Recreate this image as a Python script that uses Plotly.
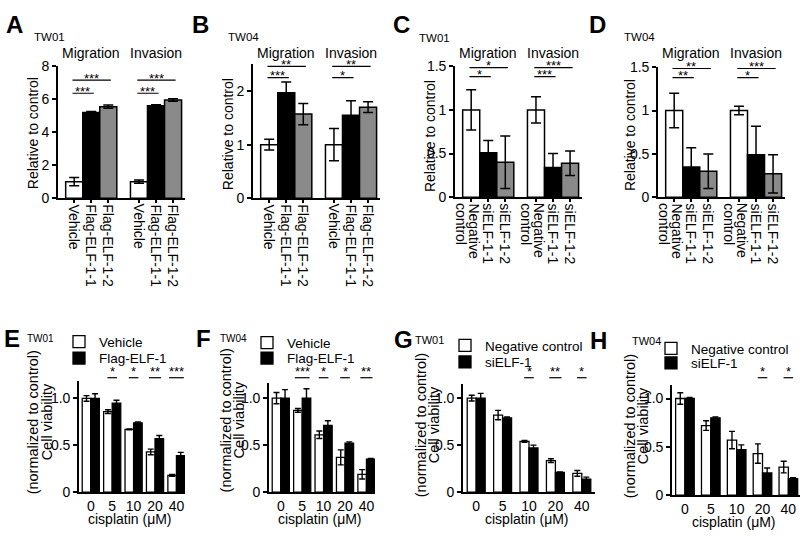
import plotly.graph_objects as go

W, H = 806, 540
FONT = "Arial, 'Liberation Sans', sans-serif"
GRAY = "#8a8a8a"

# ---------------- top row: migration / invasion (relative to control)
groups = ["Migration", "Invasion"]
flag_labels = ["Vehicle", "Flag-ELF-1-1", "Flag-ELF-1-2"]
si_labels = ["Negative<br>control", "siELF-1-1", "siELF-1-2"]

a_mean = [1.0, 5.2, 5.55, 1.0, 5.6, 5.95]
a_err = [0.25, 0.05, 0.1, 0.1, 0.07, 0.08]
a_stars = ["***", "***", "***", "***"]
a_brk = [6.36, 7.16]

b_mean = [1.0, 1.97, 1.57, 1.0, 1.55, 1.7]
b_err = [0.1, 0.2, 0.2, 0.3, 0.27, 0.1]
b_stars = ["***", "**", "*", "**"]
b_brk = [2.25, 2.46]

c_mean = [1.0, 0.51, 0.4, 1.0, 0.34, 0.39]
c_err = [0.23, 0.14, 0.3, 0.15, 0.16, 0.14]
c_stars = ["*", "*", "***", "***"]
c_brk = [1.38, 1.485]

d_mean = [1.0, 0.35, 0.3, 1.0, 0.49, 0.27]
d_err = [0.2, 0.22, 0.2, 0.05, 0.33, 0.22]
d_stars = ["**", "**", "*", "***"]
d_brk = [1.38, 1.485]

# ---------------- bottom row: cell viability vs cisplatin
doses = ["0", "5", "10", "20", "40"]

e_veh = [1.0, 0.86, 0.67, 0.43, 0.18]
e_veh_err = [0.03, 0.02, 0.005, 0.03, 0.01]
e_flag = [1.0, 0.95, 0.74, 0.57, 0.39]
e_flag_err = [0.05, 0.03, 0.01, 0.035, 0.035]
e_stars = ["", "*", "*", "**", "***"]

f_veh = [1.0, 0.87, 0.61, 0.37, 0.19]
f_veh_err = [0.06, 0.02, 0.04, 0.08, 0.05]
f_flag = [1.0, 1.0, 0.71, 0.52, 0.35]
f_flag_err = [0.09, 0.1, 0.05, 0.015, 0.01]
f_stars = ["", "***", "*", "*", "**"]

g_nc = [1.0, 0.82, 0.54, 0.335, 0.2]
g_nc_err = [0.03, 0.05, 0.01, 0.02, 0.03]
g_si = [1.0, 0.79, 0.47, 0.21, 0.14]
g_si_err = [0.05, 0.01, 0.03, 0.005, 0.02]
g_stars = ["", "", "*", "**", "*"]

h_nc = [1.0, 0.72, 0.57, 0.43, 0.29]
h_nc_err = [0.06, 0.05, 0.09, 0.1, 0.06]
h_si = [1.0, 0.8, 0.47, 0.23, 0.17]
h_si_err = [0.01, 0.01, 0.05, 0.05, 0.01]
h_stars = ["", "", "", "*", "*"]

GROUP_STEP = 3.8
TOP_XR = [-0.95, 6.5]

top_panels = [
    dict(letter="A", line="TW01", labels=flag_labels, mean=a_mean, err=a_err,
         stars=a_stars, brk=a_brk, yr=[0, 8], tv=[0, 2, 4, 6, 8], tt=["0", "2", "4", "6", "8"],
         box=(58, 185, 60, 196), lpos=(14, 17), tpos=(49, 30), ytl=(33, 129)),
    dict(letter="B", line="TW04", labels=flag_labels, mean=b_mean, err=b_err,
         stars=b_stars, brk=b_brk, yr=[0, 2.5], tv=[0, 1, 2], tt=["0", "1", "2"],
         box=(253, 380, 58, 196), lpos=(200, 17), tpos=(243, 30), ytl=(228, 130)),
    dict(letter="C", line="TW01", labels=si_labels, mean=c_mean, err=c_err,
         stars=c_stars, brk=c_brk, yr=[0, 1.5], tv=[0, 0.5, 1, 1.5], tt=["0", "0.5", "1", "1.5"],
         box=(455, 582, 60, 195), lpos=(401, 17), tpos=(434, 31), ytl=(430, 132)),
    dict(letter="D", line="TW04", labels=si_labels, mean=d_mean, err=d_err,
         stars=d_stars, brk=d_brk, yr=[0, 1.5], tv=[0, 0.5, 1, 1.5], tt=["0", "0.5", "1", "1.5"],
         box=(658, 785, 61, 195), lpos=(597, 17), tpos=(639, 30), ytl=(630, 131)),
]

bottom_panels = [
    dict(letter="E", line="TW01", names=["Vehicle", "Flag-ELF-1"], a=e_veh, ae=e_veh_err,
         b=e_flag, be=e_flag_err, stars=e_stars, yr=[0, 1.19], xr=[-0.55, 4.4], w=0.4,
         box=(79, 185, 384, 499), lpos=(12, 341), tpos=(40, 341), tsize=10,
         ytl=(33, 47, 427), leg=(99, 341, 358), xt=527),
    dict(letter="F", line="TW04", names=["Vehicle", "Flag-ELF-1"], a=f_veh, ae=f_veh_err,
         b=f_flag, be=f_flag_err, stars=f_stars, yr=[0, 1.165], xr=[-0.55, 4.4], w=0.4,
         box=(269, 375, 386, 499), lpos=(203, 341), tpos=(233, 341), tsize=10,
         ytl=(226, 239, 425), leg=(287, 342, 358), xt=527),
    dict(letter="G", line="TW01", names=["Negative control", "siELF-1"], a=g_nc, ae=g_nc_err,
         b=g_si, be=g_si_err, stars=g_stars, yr=[0, 1.155], xr=[-0.5, 4.5], w=0.34,
         box=(463, 595, 387, 499), lpos=(404, 342), tpos=(429, 342), tsize=11,
         ytl=(421, 434, 430), leg=(485, 345, 362), xt=527),
    dict(letter="H", line="TW04", names=["Negative control", "siELF-1"], a=h_nc, ae=h_nc_err,
         b=h_si, be=h_si_err, stars=h_stars, yr=[0, 1.145], xr=[-0.5, 4.45], w=0.36,
         box=(672, 800, 388, 502), lpos=(598, 343), tpos=(646, 343), tsize=11,
         ytl=(630, 643, 431), leg=(691, 348, 363), xt=530),
]


def px(x, y):
    return x / W, 1 - y / H


def dom(box):
    x0, x1, y0, y1 = box
    return [x0 / W, x1 / W], [1 - y1 / H, 1 - y0 / H]


fig = go.Figure()
layout = {}
annotations = []
shapes = []

axis_common = dict(showline=True, linecolor="black", linewidth=1.6, showgrid=False,
                   zeroline=False, tickfont=dict(size=14, color="black"),
                   ticks="outside", tickcolor="black", tickwidth=1.5)


def text(x, y, s, size=14, bold=False, **kw):
    xp, yp = px(x, y)
    opts = dict(xanchor="center", yanchor="middle")
    opts.update(kw)
    annotations.append(dict(x=xp, y=yp, xref="paper", yref="paper",
                            text=f"<b>{s}</b>" if bold else s, showarrow=False,
                            font=dict(size=size, color="black"), **opts))


k = 0
for p in top_panels:
    k += 1
    xn, yn = f"x{k}", f"y{k}"
    pos = [g * GROUP_STEP + i for g in range(len(groups)) for i in range(3)]
    fig.add_trace(go.Bar(
        x=pos, y=p["mean"], width=1, xaxis=xn, yaxis=yn, showlegend=False,
        marker=dict(color=["white", "black", GRAY] * 2, line=dict(color="black", width=1.5)),
        error_y=dict(type="data", array=p["err"], color="black", thickness=1.5, width=5),
    ))
    xd, yd = dom(p["box"])
    layout[f"xaxis{k}"] = dict(axis_common, domain=xd, anchor=yn, range=TOP_XR,
                               tickmode="array", tickvals=pos, showticklabels=False, ticklen=3)
    layout[f"yaxis{k}"] = dict(axis_common, domain=yd, anchor=xn, range=p["yr"],
                               tickmode="array", tickvals=p["tv"], ticktext=p["tt"], ticklen=4)
    # rotated category labels (one text per line so the line spacing stays tight)
    _, lab_y = px(0, p["box"][3] + 4)
    for xv, lab in zip(pos, p["labels"] * 2):
        lines = lab.split("<br>")
        n = len(lines)
        for j, ln in enumerate(lines):
            annotations.append(dict(x=xv, y=lab_y, xref=xn, yref="paper", text=ln,
                                    showarrow=False, textangle=90, xanchor="center",
                                    yanchor="top", xshift=3 * (n - 1) - 13 * j,
                                    font=dict(size=14, color="black")))
    # significance brackets
    for g in range(len(groups)):
        first = pos[g * 3]
        for j, target in enumerate([1, 2]):
            x1 = pos[g * 3 + target]
            yv = p["brk"][j]
            shapes.append(dict(type="line", xref=xn, yref=yn, x0=first - 0.1, x1=x1 + 0.15,
                               y0=yv, y1=yv, line=dict(color="black", width=1.2)))
            annotations.append(dict(x=(first + x1) / 2, y=yv, xref=xn, yref=yn,
                                    text=p["stars"][g * 2 + j], showarrow=False, yanchor="middle",
                                    yshift=2, font=dict(size=13, color="black")))
        gx = (pos[g * 3] + pos[g * 3 + 2]) / 2
        xpix = p["box"][0] + (gx - TOP_XR[0]) / (TOP_XR[1] - TOP_XR[0]) * (p["box"][1] - p["box"][0])
        text(xpix, 46, groups[g], size=14)
    text(*p["lpos"], p["letter"], size=24, bold=True)
    text(*p["tpos"], p["line"], size=11.5)
    text(*p["ytl"], "Relative to control", size=14, textangle=-90)

leg_n = 0
for p in bottom_panels:
    k += 1
    xn, yn = f"x{k}", f"y{k}"
    w = p["w"]
    series = [(p["names"][0], p["a"], p["ae"], "white", -w, p["leg"][1]),
              (p["names"][1], p["b"], p["be"], "black", 0, p["leg"][2])]
    for name, vals, errs, col, off, ly in series:
        leg_n += 1
        leg = "legend" if leg_n == 1 else f"legend{leg_n}"
        fig.add_trace(go.Bar(
            x=doses, y=vals, name=name, width=w, offset=off, xaxis=xn, yaxis=yn, legend=leg,
            marker=dict(color=col, line=dict(color="black", width=1.3)),
            error_y=dict(type="data", array=errs, color="black", thickness=1.4, width=3),
        ))
        lxp, lyp = px(p["leg"][0] - 40, ly - 13)
        layout[leg] = dict(x=lxp, y=lyp, xanchor="left", yanchor="top",
                           bgcolor="rgba(0,0,0,0)", font=dict(size=13.5, color="black"),
                           itemwidth=30, itemclick=False)
    xd, yd = dom(p["box"])
    layout[f"xaxis{k}"] = dict(axis_common, domain=xd, anchor=yn, type="category",
                               categoryarray=doses, range=p["xr"], ticks="")
    layout[f"yaxis{k}"] = dict(axis_common, domain=yd, anchor=xn, range=p["yr"],
                               tickmode="array", tickvals=[0, 0.5, 1.0], ticktext=["0", "0.5", "1.0"],
                               ticklen=4)
    # significance stars with a short underline
    _, star_y = px(0, 375)
    _, line_y = px(0, 381)
    for i, s in enumerate(p["stars"]):
        if not s:
            continue
        annotations.append(dict(x=i, y=star_y, xref=xn, yref="paper", text=s, showarrow=False,
                                yanchor="middle", font=dict(size=13, color="black")))
        half = 3.5 + 1.3 * len(s)
        shapes.append(dict(type="line", xref=xn, yref="paper", xsizemode="pixel", xanchor=i,
                           x0=-half, x1=half, y0=line_y, y1=line_y,
                           line=dict(color="black", width=1.2)))
    text(*p["lpos"], p["letter"], size=24, bold=True)
    text(*p["tpos"], p["line"], size=p["tsize"])
    text(p["ytl"][0], p["ytl"][2], "(normalized to control)", size=14.5, textangle=-90)
    text(p["ytl"][1], p["ytl"][2], "Cell viability", size=14.5, textangle=-90)
    cx = (p["box"][0] + p["box"][1]) / 2 - 2
    text(cx, p["xt"], "cisplatin (μM)", size=14)

layout.update(
    width=W, height=H, margin=dict(l=0, r=0, t=0, b=0),
    paper_bgcolor="white", plot_bgcolor="white",
    font=dict(family=FONT, color="black", size=14),
    annotations=annotations, shapes=shapes, showlegend=True,
)
fig.update_layout(**layout)
fig.write_html("out.html", config={"displayModeBar": False},
               post_script="document.body.style.margin = '0px';")
